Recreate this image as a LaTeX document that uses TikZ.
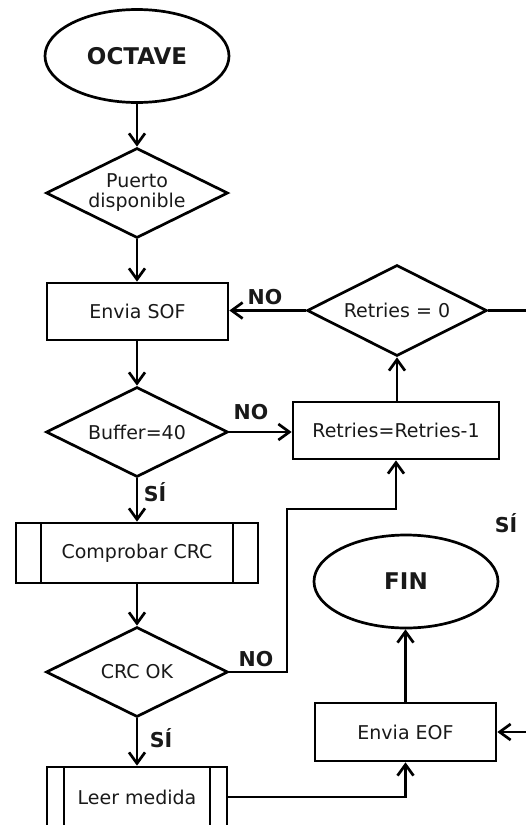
\documentclass[tikz,border=0pt]{standalone}
\usepackage{fontspec}
\setmainfont{DejaVu Sans}
\usetikzlibrary{shapes.geometric,arrows.meta}

\tikzset{
  every node/.style={font=\fontsize{19}{23}\selectfont, inner sep=0pt, text=black!90},
  term/.style={ellipse, draw, minimum width=184pt, minimum height=93pt,
               font=\fontsize{23}{27}\selectfont\bfseries},
  decision/.style={diamond, draw, aspect=2.2, align=center,
                   minimum width=182pt, minimum height=90pt},
  proc/.style={rectangle, draw, minimum width=181pt, minimum height=57pt},
  subproc/.style={rectangle, draw, minimum height=60pt,
    path picture={
      \draw ([xshift=#1]path picture bounding box.north west) --
            ([xshift=#1]path picture bounding box.south west);
      \draw ([xshift=-#1]path picture bounding box.north east) --
            ([xshift=-#1]path picture bounding box.south east);}},
  lab/.style={font=\fontsize{20.5}{24}\selectfont\bfseries},
  arr/.style={-{Straight Barb[length=11pt,width=16pt,line width=2.7pt]}},
}

\begin{document}
\begin{tikzpicture}[x=1pt, y=-1pt, line width=2.7pt]
\useasboundingbox (0,0) rectangle (526,825);
\begin{scope}
\clip (0,0) rectangle (526,825);

% main column
\node[term] (oct) at (137,56) {OCTAVE};
\node[decision] (puerto) at (137,193) {Puerto\\[-3pt]disponible};
\node[proc] (sof) at (137.5,311.5) {Envia SOF};
\node[decision] (buf) at (137,432) {Buffer=40};
\node[subproc=25pt, minimum width=242pt] (crc) at (137,553) {Comprobar CRC};
\node[decision] (crcok) at (137,672) {CRC OK};
\node[subproc=17pt, minimum width=180pt] (leer) at (137,797) {Leer medida};

% right column
\node[decision, minimum width=180pt, minimum height=91pt] (ret0) at (397,310.5) {Retries = 0};
\node[proc, minimum width=206pt] (retm) at (396,430.5) {Retries=Retries-1};
\node[term] (fin) at (406,581.5) {FIN};
\node[proc, minimum height=58pt] (eof) at (405.5,732) {Envia EOF};

% bend points
\coordinate (nobend) at (287,509);
\coordinate (yesR) at (545,310.5);
\coordinate (yesD) at (545,732);

% connectors
\draw[arr] (oct.south) -- (puerto.north);
\draw[arr] (puerto.south) -- (sof.north -| puerto.south);
\draw[arr] (sof.south -| buf.north) -- (buf.north);
\draw[arr] (buf.south) -- (crc.north);
\draw[arr] (buf.east) -- (buf.east -| retm.west);
\draw[arr] (crc.south) -- (crcok.north);
\draw[arr] (crcok.south) -- (leer.north);
\draw[arr] (crcok.east) -| (nobend) -| (retm.south);
\draw[arr] (retm.north -| ret0.south) -- (ret0.south);
\draw[arr] (ret0.west) -- (ret0.west -| sof.east);
\draw[arr] (ret0.east) -- (yesR) -- (yesD) -- (eof.east);
\draw[arr] (leer.east) -| (eof.south);
\draw[arr] (eof.north) -- (eof.north |- fin.south);

% branch labels
\node[lab] (s1) at (155,492) {SÍ};
\node[lab] (n1) at (251,412) {NO};
\node[lab] (n2) at (265,297) {NO};
\node[lab] (n3) at (256,659) {NO};
\node[lab] (s2) at (161,738) {SÍ};
\node[lab] (s3) at (506,523) {SÍ};
\end{scope}
\end{tikzpicture}
\end{document}
